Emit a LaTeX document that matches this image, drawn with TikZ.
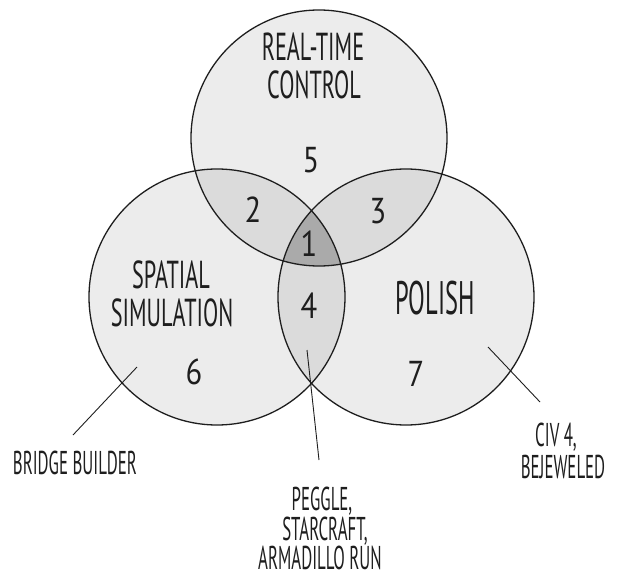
\documentclass[tikz,border=0pt]{standalone}
\usepackage{fontspec}
\newfontfamily\handa[FakeStretch=0.57]{PT Sans}
\newfontfamily\handp[FakeStretch=0.52]{PT Sans}
\newfontfamily\handb[FakeStretch=0.51]{PT Sans}
\newfontfamily\handc[FakeStretch=0.85]{PT Sans}
\definecolor{single}{RGB}{236,236,236}
\definecolor{pair}{RGB}{219,219,219}
\definecolor{triple}{RGB}{170,170,170}
\definecolor{ink}{RGB}{30,30,30}
\begin{document}
\begin{tikzpicture}[x=1pt,y=-1pt,
  ring/.style={draw=ink, line width=1.3pt},
  leader/.style={draw=ink, line width=0.9pt},
  txt/.style={text=ink, inner sep=0pt, text depth=0pt},
  big/.style={txt, font=\handa\fontsize{39}{39}\selectfont, text height=27pt},
  pol/.style={txt, font=\handp\fontsize{47}{47}\selectfont, text height=33pt},
  lab/.style={txt, font=\handb\fontsize{33}{33}\selectfont, text height=23pt},
  num/.style={txt, font=\handc\fontsize{36}{36}\selectfont, text height=25pt}]
\useasboundingbox (0,0) rectangle (619,575);
\coordinate (T) at (319,138);
\coordinate (L) at (217,297);
\coordinate (Rc) at (406,297);
\def\R{128pt}
\fill[single] (T) circle[radius=\R] (L) circle[radius=\R] (Rc) circle[radius=\R];
\begin{scope}
  \clip (T) circle[radius=\R];
  \fill[pair] (L) circle[radius=\R];
  \fill[pair] (Rc) circle[radius=\R];
  \clip (L) circle[radius=\R];
  \fill[triple] (Rc) circle[radius=\R];
\end{scope}
\begin{scope}
  \clip (L) circle[radius=\R];
  \fill[pair] (Rc) circle[radius=\R];
  \clip (T) circle[radius=\R];
  \fill[triple] (Rc) circle[radius=\R];
\end{scope}
\draw[ring] (T) circle[radius=\R];
\draw[ring] (L) circle[radius=\R];
\draw[ring] (Rc) circle[radius=\R];

\node[big] (rtc1) at (313,47) {REAL-TIME};
\node[big] (rtc2) at (314,85) {CONTROL};
\node[big] (spa1) at (171,275) {SPATIAL};
\node[big] (spa2) at (172,313) {SIMULATION};
\node[pol] (pol) at (435,298) {POLISH};

\node[num] (n5) at (311,160) {5};
\node[num] (n2) at (253,210) {2};
\node[num] (n3) at (378,211) {3};
\node[num] (n1) at (309,244) {1};
\node[num] (n4) at (309,306) {4};
\node[num] (n6) at (194,372) {6};
\node[num] (n7) at (416,374) {7};

\node[lab] (bb) at (75,463) {BRIDGE BUILDER};
\node[lab] (civ1) at (556,435) {CIV 4,};
\node[lab] (civ2) at (563,467) {BEJEWELED};
\node[lab] (peg1) at (322,499) {PEGGLE,};
\node[lab] (peg2) at (325,529) {STARCRAFT,};
\node[lab] (peg3) at (320,558) {ARMADILLO RUN};

\coordinate (bbA) at (137,367);
\coordinate (bbB) at (73,435);
\coordinate (civA) at (488,347);
\coordinate (civB) at (540,402);
\coordinate (pegA) at (307,350);
\coordinate (pegB) at (319,460);
\draw[leader] (bbA) -- (bbB);
\draw[leader] (civA) -- (civB);
\draw[leader] (pegA) -- (pegB);
\end{tikzpicture}
\end{document}
